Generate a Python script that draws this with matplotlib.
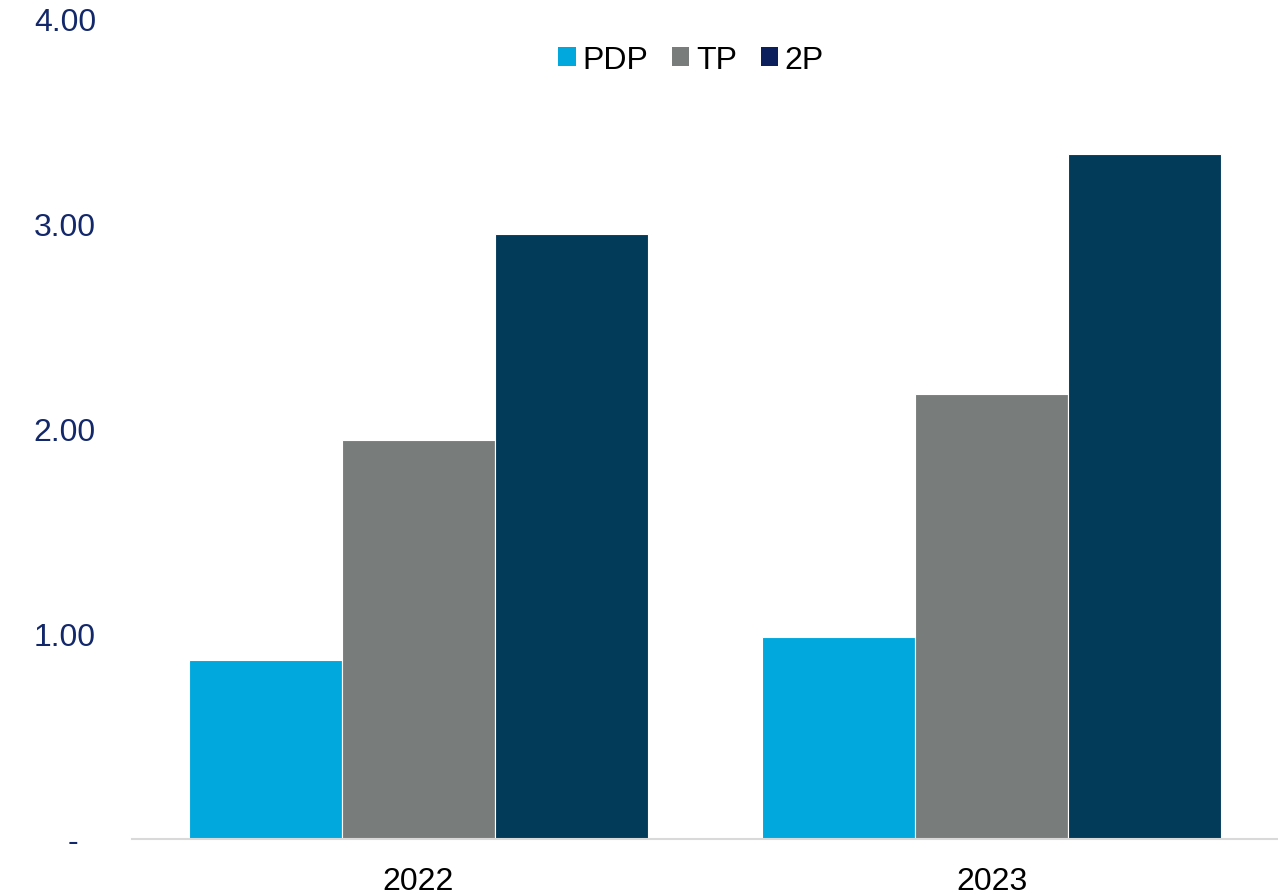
import numpy as np
import matplotlib.pyplot as plt
from matplotlib.patches import Patch
from matplotlib.ticker import FuncFormatter

plt.rcParams['font.family'] = ['Liberation Sans', 'DejaVu Sans']

years = ['2022', '2023']
series = ['PDP', 'TP', '2P']
pdp = [0.873, 0.985]
tp = [1.946, 2.17]
two_p = [2.95, 3.337]

bar_colors = ['#00a8de', '#787d7c', '#023a59']
legend_colors = ['#00a8de', '#787d7c', '#0b1f5c']

fig = plt.figure(figsize=(12.78, 8.95), dpi=100)
ax = fig.add_axes([132 / 1278, 55.5 / 895, 1 - 132 / 1278, 820 / 895])

x = np.arange(len(years))
w = 0.8 / 3
for i, vals in enumerate([pdp, tp, two_p]):
    ax.bar(x + (i - 1) * w, vals, width=w, color=bar_colors[i],
           edgecolor='white', linewidth=0.8, zorder=2)

ax.set_xlim(-0.5, 1.5)
ax.set_ylim(0, 4)
ax.set_yticks([0, 1, 2, 3, 4])
ax.yaxis.set_major_formatter(FuncFormatter(lambda v, p: '-  ' if v == 0 else f'{v:.2f}'))
ax.set_xticks(x)
ax.set_xticklabels(years)

for s in ['top', 'right', 'left']:
    ax.spines[s].set_visible(False)
ax.spines['bottom'].set_color('#d9d9d9')
ax.spines['bottom'].set_linewidth(1.5)

ax.tick_params(axis='y', length=0, pad=26, labelsize=23, labelcolor='#13286b')
ax.tick_params(axis='x', length=0, pad=20, labelsize=23, labelcolor='black')

handles = [Patch(facecolor=c, edgecolor='none') for c in legend_colors]
fig.legend(handles, series, loc='center', bbox_to_anchor=(691 / 1278, 1 - 61 / 895),
           ncol=3, frameon=False, fontsize=23, handlelength=0.55, handleheight=0.55,
           handletextpad=0.2, columnspacing=0.75)

fig.savefig('out.png', dpi=100)
